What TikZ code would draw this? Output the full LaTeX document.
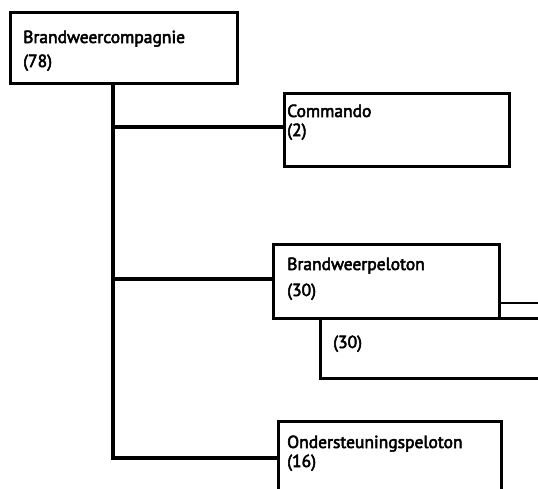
\documentclass[tikz,border=0pt]{standalone}
\usepackage{fontspec}
\setmainfont{PT Sans}
\newfontfamily\lblfont{PT Sans}[UprightFeatures={FakeBold=3}]
\begin{document}
\begin{tikzpicture}[x=1pt,y=-1pt,
  box/.style={draw,line width=2.6pt,inner sep=0pt,anchor=north west},
  conn/.style={line width=3.4pt},
  lbl/.style={anchor=base west,inner sep=0pt,font=\lblfont\fontsize{17.5}{19}\selectfont}]
\useasboundingbox (0,0) rectangle (538,488);
\clip (0,0) rectangle (538,488);
% boxes
\node[box,minimum width=227pt,minimum height=71pt] (comp) at (9,11) {};
\node[box,minimum width=225pt,minimum height=73pt] (cmd) at (283,92) {};
\node[box,minimum width=226pt,minimum height=74pt] (bp) at (272,243) {};
\node[box,minimum width=260pt,minimum height=60pt] (bp2) at (319,317) {};
\node[box,minimum width=223pt,minimum height=100pt] (ond) at (277,420) {};
% texts
\node[lbl] (t1) at (23,43) {Brandweercompagnie};
\node[lbl] (t1b) at (23,67) {(78)};
\node[lbl] (t2) at (287,117) {Commando};
\node[lbl] (t2b) at (287,136) {(2)};
\node[lbl] (t3) at (287,270) {Brandweerpeloton};
\node[lbl] (t3b) at (287,296) {(30)};
\node[lbl] (t4) at (333,348) {(30)};
\node[lbl] (t5) at (287,448) {Ondersteuningspeloton};
\node[lbl] (t5b) at (287,467) {(16)};
% connectors
\coordinate (trunkTop) at (113,82);
\coordinate (j1) at (113,127);
\coordinate (j2) at (113,279);
\coordinate (j3) at (113,458);
\coordinate (edgeR) at (545,303);
\draw[conn] (trunkTop) -- (j3);
\draw[conn] (j1) -- (cmd.west |- j1);
\draw[conn] (j2) -- (bp.west |- j2);
\draw[conn,line cap=rect] (j3) -- (ond.west |- j3);
\draw[line width=2.6pt] (bp.east |- edgeR) -- (edgeR);
\end{tikzpicture}
\end{document}
